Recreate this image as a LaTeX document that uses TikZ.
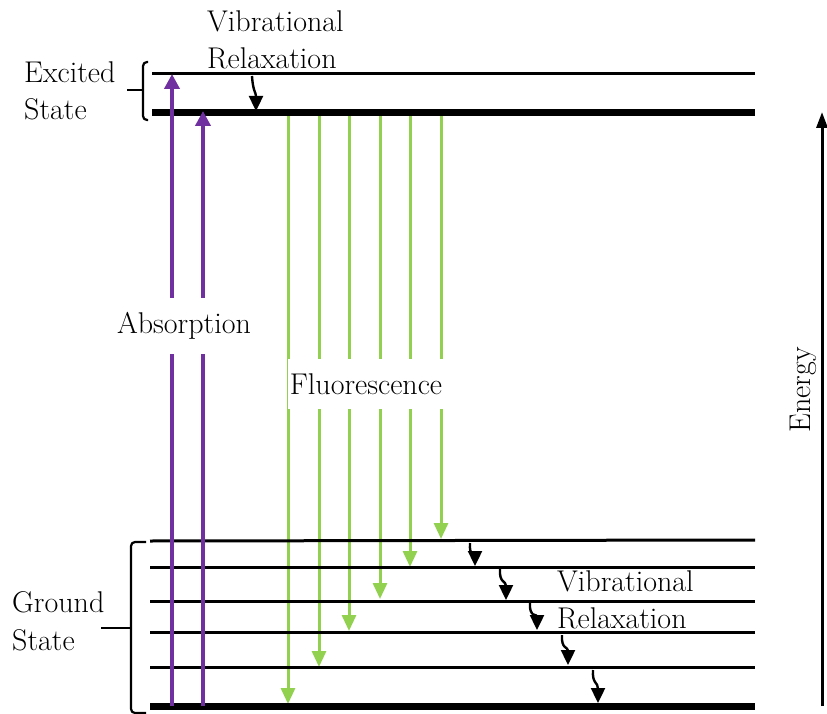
\documentclass[tikz,border=0pt]{standalone}
\usetikzlibrary{arrows.meta}
\definecolor{purp}{HTML}{7030A0}
\definecolor{grn}{HTML}{92D050}
\begin{document}
\begin{tikzpicture}[x=1pt,y=-1pt,
 lvl/.style={line width=3pt},
 lvlthick/.style={line width=7pt},
 absarrow/.style={purp, line width=4pt, -{Triangle[width=15pt,length=15pt]}},
 fluarrow/.style={grn, line width=3pt, -{Triangle[width=14pt,length=16pt]}},
 relax/.style={line width=2.4pt, -{Triangle[width=14pt,length=15pt]}},
 enarrow/.style={line width=3pt, -{Triangle[width=11pt,length=16pt]}},
 lbl/.style={font=\fontsize{30}{37.5}\selectfont, inner sep=0pt},
 gaplbl/.style={lbl, fill=white, inner xsep=2pt, inner ysep=14pt},
 brace/.style={line width=2.2pt, rounded corners=4pt}]
\useasboundingbox (0,0) rectangle (827,714);

% coordinates of levels
\coordinate (E1L) at (152,74);  \coordinate (E1R) at (755,74);
\coordinate (E0L) at (152,113); \coordinate (E0R) at (755,113);
\coordinate (G5L) at (150,541); \coordinate (G5R) at (755,540);
\coordinate (G4L) at (150,567); \coordinate (G4R) at (755,567);
\coordinate (G3L) at (150,601); \coordinate (G3R) at (755,601);
\coordinate (G2L) at (150,632); \coordinate (G2R) at (755,632);
\coordinate (G1L) at (150,667); \coordinate (G1R) at (755,667);
\coordinate (G0L) at (150,706); \coordinate (G0R) at (755,706);

% fluorescence arrows
\foreach \n/\x/\y in {1/288/704,2/319/667,3/349/631,4/380/599,5/410/567,6/441/539}{
  \coordinate (F\n t) at (\x,114);
  \coordinate (F\n b) at (\x,\y);
  \draw[fluarrow] (F\n t) -- (F\n b);
}

% levels
\draw[lvl] (E1L) -- (E1R);
\draw[lvlthick] (E0L) -- (E0R);
\draw[lvl] (G5L) -- (G5R);
\draw[lvl] (G4L) -- (G4R);
\draw[lvl] (G3L) -- (G3R);
\draw[lvl] (G2L) -- (G2R);
\draw[lvl] (G1L) -- (G1R);
\draw[lvlthick] (G0L) -- (G0R);

% absorption arrows
\coordinate (A1b) at (172,706); \coordinate (A1t) at (172,74);
\coordinate (A2b) at (203,706); \coordinate (A2t) at (203,111);
\draw[absarrow] (A1b) -- (A1t);
\draw[absarrow] (A2b) -- (A2t);

% labels over gaps
\node[gaplbl] (abs) at (184,326) {Absorption};
\node[gaplbl] (flu) at (366,384) {Fluorescence};

% vibrational relaxation (top)
\coordinate (R0s) at (252,76); \coordinate (R0e) at (256,111);
\draw[relax] (R0s) .. controls (253,92) and (256,92) .. (R0e);

% vibrational relaxation (bottom)
\foreach \n/\xa/\ya/\xb/\yb in {1/470/543/475/566,2/500/569/506/600,3/530/603/537/630,4/562/635/568/665,5/593/670/598/703}{
  \coordinate (R\n s) at (\xa,\ya);
  \coordinate (R\n e) at (\xb,\yb);
  \draw[relax] (R\n s) .. controls (\xa-1,\ya+14) and (\xb,\ya+12) .. (R\n e);
}

% texts
\node[lbl, align=left, anchor=west] (exc) at (24,91) {Excited\\State};
\node[lbl, align=left, anchor=west] (vr1) at (207,40) {Vibrational\\Relaxation};
\node[lbl, align=left, anchor=west] (gnd) at (12,621) {Ground\\State};
\node[lbl, align=left, anchor=west] (vr2) at (557,600) {Vibrational\\Relaxation};

% braces
\draw[brace] (148,62) -- (143,62) -- (143,120) -- (148,120);
\draw[line width=2.2pt] (127,90) -- (143,90);
\draw[brace] (146,542) -- (131,542) -- (131,713) -- (146,713);
\draw[line width=2.2pt] (101,628) -- (131,628);

% energy axis
\coordinate (en0) at (822,706); \coordinate (en1) at (822,112);
\draw[enarrow] (en0) -- (en1);
\node[lbl, rotate=90] (energy) at (803,390) {Energy};
\end{tikzpicture}
\end{document}
